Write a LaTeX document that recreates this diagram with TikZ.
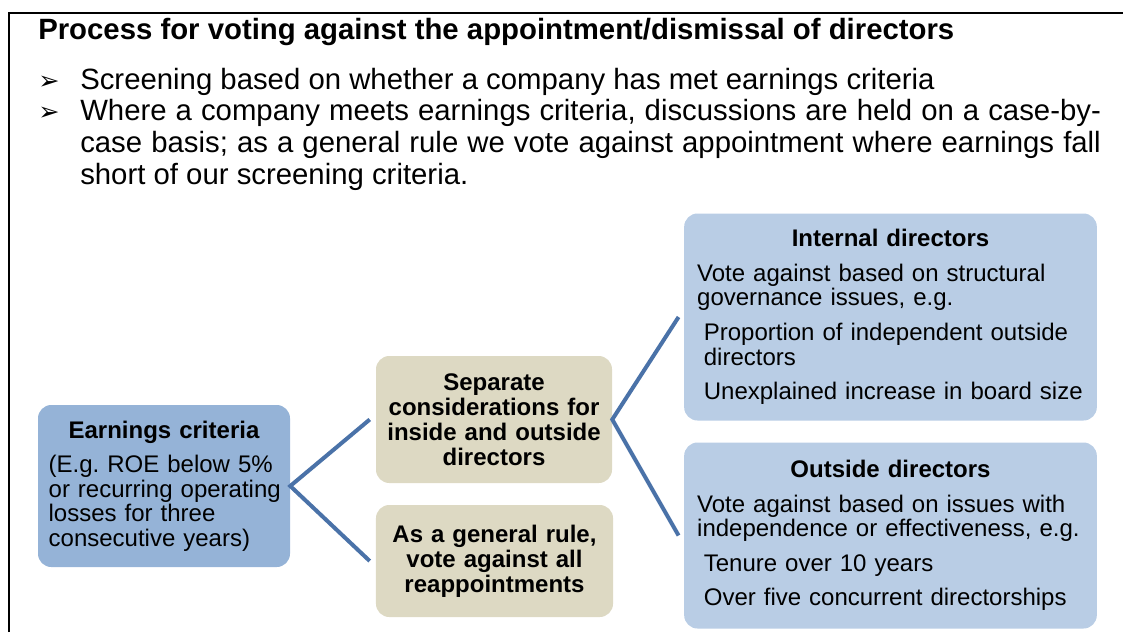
\documentclass[tikz,border=0pt]{standalone}
\usepackage{fontspec}
\setmainfont{Liberation Sans}
\newfontfamily\dingfont{DejaVu Sans}

\definecolor{earnblue}{HTML}{95B3D7}
\definecolor{dirblue}{HTML}{B9CDE5}
\definecolor{sand}{HTML}{DDD9C3}
\definecolor{linkblue}{HTML}{4A72A8}

\newcommand{\arrowbullet}{\makebox[31.5pt][l]{\raisebox{0pt}{\dingfont\fontsize{19}{19}\selectfont ➢}}}

\begin{document}
\frenchspacing
\begin{tikzpicture}[x=0.75pt, y=-0.75pt,
  box/.style={rounded corners=10pt, inner ysep=0pt, font=\fontsize{18}{18.4}\selectfont},
  earnbox/.style={box, fill=earnblue, align=left},
  midbox/.style={box, fill=sand, align=center, font=\fontsize{18}{18.8}\selectfont\bfseries},
  dirbox/.style={box, fill=dirblue, align=left, text width=290pt, inner xsep=9.75pt},
  conn/.style={draw=linkblue, line width=3pt}]

  \useasboundingbox (0,0) rectangle (1123,632);
  \draw[line width=1.5pt] (9,632) -- (9,13) -- (1123,13);

  \node[anchor=base west, inner sep=0pt, font=\fontsize{22}{23.6}\selectfont\bfseries] (title) at (38,39)
    {Process for voting against the appointment/dismissal of directors};
  \node[anchor=base west, inner sep=0pt, text width=797pt, align=justify, font=\fontsize{22}{23.8}\selectfont] (intro) at (38,89)
    {\hangindent=31.5pt\hangafter=1\noindent\arrowbullet Screening based on whether a company has met earnings criteria\par
     \hangindent=31.5pt\hangafter=1\noindent\arrowbullet Where a company meets earnings criteria, discussions are held on a case-by-\linebreak case basis; as a general rule we vote against appointment where earnings fall\linebreak short of our screening criteria.\par};

  \node[earnbox, text width=180pt, inner xsep=4.5pt, minimum height=121.5pt] (earn) at (164,486)
    {{\centering\bfseries Earnings criteria\par}\vskip7.5pt
     \hspace*{3.5pt}(E.g. ROE below 5\%\\\hspace*{3.5pt}or recurring operating\\\hspace*{3.5pt}losses for three\\\hspace*{3.5pt}consecutive years)};

  \node[midbox, text width=165pt, inner xsep=6pt, minimum height=95.25pt] (sep) at (494,419.5)
    {Separate\\considerations for\\inside and outside\\directors};
  \node[midbox, text width=165pt, inner xsep=6.4pt, minimum height=84pt] (rule) at (494.5,561)
    {As a general rule,\\vote against all\\reappointments};

  \node[dirbox, minimum height=155.25pt] (intl) at (890.5,317)
    {{\centering\bfseries Internal directors\par}\vskip7.5pt
     Vote against based on structural\\governance issues, e.g.\\[7.5pt]
     \hspace*{5pt}Proportion of independent outside\\\hspace*{5pt}directors\\[7.5pt]
     \hspace*{5pt}Unexplained increase in board size};
  \node[dirbox, minimum height=139.5pt] (outs) at (890.5,535.5)
    {{\centering\bfseries Outside directors\par}\vskip7.5pt
     Vote against based on issues with\\independence or effectiveness, e.g.\\[7.5pt]
     \hspace*{5pt}Tenure over 10 years\\[7.5pt]
     \hspace*{5pt}Over five concurrent directorships};

  \draw[conn] ([xshift=-4.5pt]sep.west) -- (earn.east) -- ([xshift=-4.5pt]rule.west);
  \draw[conn] ([xshift=-4pt]intl.west) -- (sep.east) -- ([xshift=-4pt]outs.west);
\end{tikzpicture}
\end{document}
